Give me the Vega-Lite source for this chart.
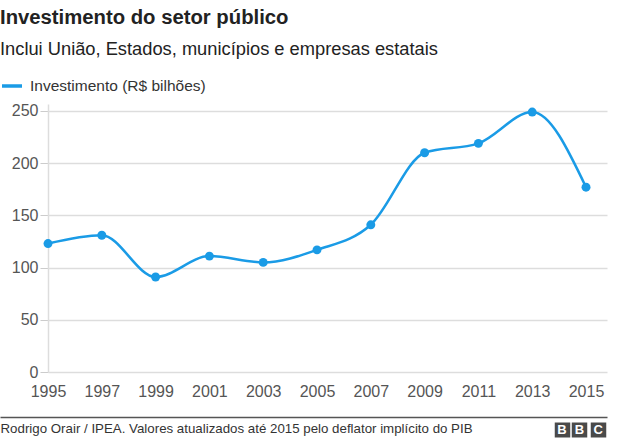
{
  "$schema": "https://vega.github.io/schema/vega-lite/v6.json",
  "autosize": "none",
  "width": 559,
  "height": 268,
  "padding": {"left": 48, "top": 104, "right": 33, "bottom": 70},
  "background": "white",
  "config": {
    "view": {"stroke": null},
    "font": "Liberation Sans"
  },
  "title": {
    "text": "Investimento do setor público",
    "subtitle": "Inclui União, Estados, municípios e empresas estatais",
    "anchor": "start",
    "frame": "group",
    "dx": -48,
    "font": "Liberation Sans",
    "fontSize": 20.3,
    "fontWeight": "bold",
    "color": "#222222",
    "subtitleFont": "Liberation Sans",
    "subtitleFontSize": 18.3,
    "subtitleColor": "#222222",
    "subtitlePadding": 12,
    "offset": 16
  },
  "data": {
    "values": [
      {"year": 1995, "value": 123},
      {"year": 1997, "value": 131},
      {"year": 1999, "value": 91},
      {"year": 2001, "value": 111},
      {"year": 2003, "value": 105},
      {"year": 2005, "value": 117},
      {"year": 2007, "value": 141},
      {"year": 2009, "value": 210},
      {"year": 2011, "value": 219},
      {"year": 2013, "value": 249},
      {"year": 2015, "value": 177}
    ]
  },
  "encoding": {
    "y": {
      "field": "value",
      "type": "quantitative",
      "scale": {"domain": [0, 256.7], "nice": false, "zero": true},
      "axis": {
        "values": [0, 50, 100, 150, 200, 250],
        "title": null,
        "grid": true,
        "gridColor": "#dddddd",
        "gridWidth": 1.5,
        "domain": true,
        "domainColor": "#dddddd",
        "domainWidth": 1.5,
        "ticks": true,
        "tickSize": 8,
        "tickColor": "#cccccc",
        "labelFontSize": 16,
        "labelColor": "#555555",
        "labelPadding": 2,
        "labelFont": "Liberation Sans"
      }
    }
  },
  "layer": [
    {
      "layer": [
        {
          "mark": {"type": "line", "interpolate": "monotone", "strokeWidth": 2.5},
          "encoding": {
            "x": {
              "field": "year",
              "type": "quantitative",
              "scale": {"domain": [1995, 2015.78], "nice": false, "zero": false},
              "axis": {
                "values": [1995, 1997, 1999, 2001, 2003, 2005, 2007, 2009, 2011, 2013, 2015],
                "format": "d",
                "title": null,
                "grid": false,
                "ticks": false,
                "domain": false,
                "labelFontSize": 16,
                "labelColor": "#555555",
                "labelPadding": 11,
                "labelFlush": false,
                "labelOverlap": false,
                "labelFont": "Liberation Sans"
              }
            },
            "color": {
              "datum": "Investimento (R$ bilhões)",
              "scale": {"range": ["#1a9be6"]},
              "legend": {
                "title": null,
                "orient": "none",
                "legendX": -48,
                "legendY": -30,
                "symbolType": "stroke",
                "symbolSize": 400,
                "symbolStrokeWidth": 3.5,
                "labelFontSize": 15.5,
                "labelLimit": 400,
                "labelColor": "#333333",
                "labelFont": "Liberation Sans",
                "labelOffset": 6,
                "padding": 0
              }
            }
          }
        },
        {
          "mark": {"type": "point", "filled": true, "size": 80, "opacity": 1, "color": "#1a9be6"},
          "encoding": {
            "x": {"field": "year", "type": "quantitative"}
          }
        }
      ]
    },
    {
      "mark": {"type": "point", "opacity": 0},
      "encoding": {
        "x": {
          "field": "year",
          "type": "quantitative",
          "scale": {"domain": [1995, 2015.78], "range": [-48, 559], "nice": false, "zero": false},
          "axis": {
            "orient": "bottom",
            "offset": 45,
            "domain": true,
            "domainColor": "#555555",
            "domainWidth": 1.5,
            "labels": false,
            "ticks": false,
            "grid": false,
            "title": "Rodrigo Orair / IPEA. Valores atualizados até 2015 pelo deflator implícito do PIB",
            "titleX": -48,
            "titleY": 15,
            "titleAlign": "left",
            "titleAnchor": "start",
            "titleBaseline": "alphabetic",
            "titleFontSize": 13.3,
            "titleFontWeight": "normal",
            "titleColor": "#333333",
            "titleFont": "Liberation Sans",
            "titleLimit": 600
          }
        }
      }
    },
    {
      "mark": {"type": "point", "opacity": 0},
      "encoding": {
        "x": {
          "field": "year",
          "type": "quantitative",
          "scale": {"domain": [1995, 2015.78], "nice": false, "zero": false},
          "axis": {
            "orient": "bottom",
            "offset": 50,
            "values": [2014.09, 2014.74, 2015.43],
            "labelExpr": "datum.value > 2015 ? 'C' : 'B'",
            "domain": false,
            "grid": false,
            "ticks": true,
            "tickSize": 15,
            "tickWidth": 15.5,
            "tickColor": "#4a4a4a",
            "labelColor": "#ffffff",
            "labelFontWeight": "bold",
            "labelFontSize": 13,
            "labelBaseline": "middle",
            "labelPadding": -7.5,
            "labelFlush": false,
            "labelOverlap": false,
            "labelFont": "Liberation Sans",
            "title": null
          }
        }
      }
    }
  ],
  "resolve": {"scale": {"x": "independent"}}
}
